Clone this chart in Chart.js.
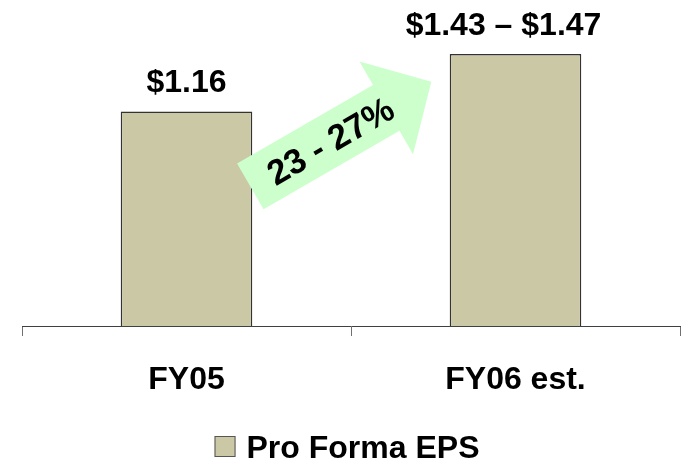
<!DOCTYPE html>
<html>
<head>
<meta charset="utf-8">
<title>Pro Forma EPS</title>
<script src="https://cdn.jsdelivr.net/npm/chart.js@4.4.0/dist/chart.umd.min.js"></script>
<style>
    html, body { margin: 0; padding: 0; background: #fff; }
    #wrap { width: 681px; height: 459px; position: relative; }
</style>
</head>
<body>
<div id="wrap"><canvas id="epsChart"></canvas></div>
<script>
// Chart data
const categories = ['FY05', 'FY06 est.'];
const epsValues = [1.16, 1.47];
const valueLabels = ['$1.16', '$1.43 \u2013 $1.47'];
const seriesName = 'Pro Forma EPS';
const growthLabel = '23 - 27%';

const FONT = "'Liberation Sans', Arial, sans-serif";
const BAR_COLOR = '#CBC8A6';

// Value labels above each bar
const valueLabelPlugin = {
    id: 'valueLabels',
    afterDatasetsDraw(chart, args, opts) {
        const ctx = chart.ctx;
        const bars = chart.getDatasetMeta(0).data;
        ctx.save();
        ctx.font = 'bold 32px ' + FONT;
        ctx.fillStyle = '#000';
        ctx.textAlign = 'center';
        ctx.textBaseline = 'alphabetic';
        bars.forEach((bar, i) => {
            ctx.fillText(valueLabels[i], bar.x + opts.shift[i], bar.y - 19);
        });
        ctx.restore();
    }
};

// Green growth arrow between the two bars
const growthArrowPlugin = {
    id: 'growthArrow',
    afterDatasetsDraw(chart, args, opts) {
        const ctx = chart.ctx;
        const bars = chart.getDatasetMeta(0).data;
        const yScale = chart.scales.y;
        const tailX = bars[0].x + bars[0].width / 2 - 2;
        const tailY = yScale.getPixelForValue(opts.fromValue);
        const L = opts.length, sw = opts.shaftWidth / 2, hw = opts.headWidth / 2, hl = opts.headLength;

        ctx.save();
        ctx.translate(tailX, tailY);
        ctx.rotate(-opts.angle * Math.PI / 180);
        ctx.beginPath();
        ctx.moveTo(0, -sw);
        ctx.lineTo(L - hl, -sw);
        ctx.lineTo(L - hl, -hw);
        ctx.lineTo(L, 0);
        ctx.lineTo(L - hl, hw);
        ctx.lineTo(L - hl, sw);
        ctx.lineTo(0, sw);
        ctx.closePath();
        ctx.fillStyle = '#CCFFCC';
        ctx.fill();

        ctx.font = 'bold 35px ' + FONT;
        ctx.fillStyle = '#000';
        ctx.textAlign = 'center';
        ctx.textBaseline = 'middle';
        ctx.fillText(growthLabel, opts.textAt, 3);
        ctx.restore();
    }
};

// Legend centred under the plot
const bottomLegendPlugin = {
    id: 'bottomLegend',
    afterDraw(chart) {
        const ctx = chart.ctx;
        const area = chart.chartArea;
        ctx.save();
        ctx.font = 'bold 32px ' + FONT;
        const tw = ctx.measureText(seriesName).width;
        const box = 21, gap = 11;
        const left = (area.left + area.right) / 2 - (box + gap + tw) / 2 - 4;
        ctx.fillStyle = BAR_COLOR;
        ctx.fillRect(left, 436, box, box);
        ctx.strokeStyle = '#555';
        ctx.lineWidth = 1;
        ctx.strokeRect(left + 0.5, 436.5, box - 1, box - 1);
        ctx.fillStyle = '#000';
        ctx.textBaseline = 'alphabetic';
        ctx.fillText(seriesName, left + box + gap, 458);
        ctx.restore();
    }
};

new Chart(document.getElementById('epsChart'), {
    type: 'bar',
    data: {
        labels: categories,
        datasets: [{
            label: seriesName,
            data: epsValues,
            backgroundColor: BAR_COLOR,
            borderColor: '#333',
            borderWidth: 1.5,
            barPercentage: 0.4,
            categoryPercentage: 1.0
        }]
    },
    options: {
        responsive: true,
        maintainAspectRatio: false,
        animation: false,
        layout: { padding: { top: 30, left: 22, right: 1, bottom: 0 } },
        plugins: {
            legend: { display: false },
            tooltip: { enabled: false },
            valueLabels: { shift: [0, -12] },
            growthArrow: {
                fromValue: 0.755, angle: 30, length: 209,
                shaftWidth: 53, headWidth: 107, headLength: 52, textAt: 92
            }
        },
        scales: {
            x: {
                grid: {
                    offset: true,
                    drawOnChartArea: false,
                    drawTicks: true,
                    tickLength: 10,
                    color: '#707070'
                },
                border: { color: '#404040', width: 1 },
                ticks: {
                    color: '#000',
                    font: { family: FONT, size: 32, weight: 'bold' },
                    padding: 25,
                    maxRotation: 0
                },
                afterFit: scale => { scale.height = 133; }
            },
            y: {
                display: false,
                min: 0,
                max: 1.6
            }
        }
    },
    plugins: [growthArrowPlugin, valueLabelPlugin, bottomLegendPlugin]
});
</script>
</body>
</html>
